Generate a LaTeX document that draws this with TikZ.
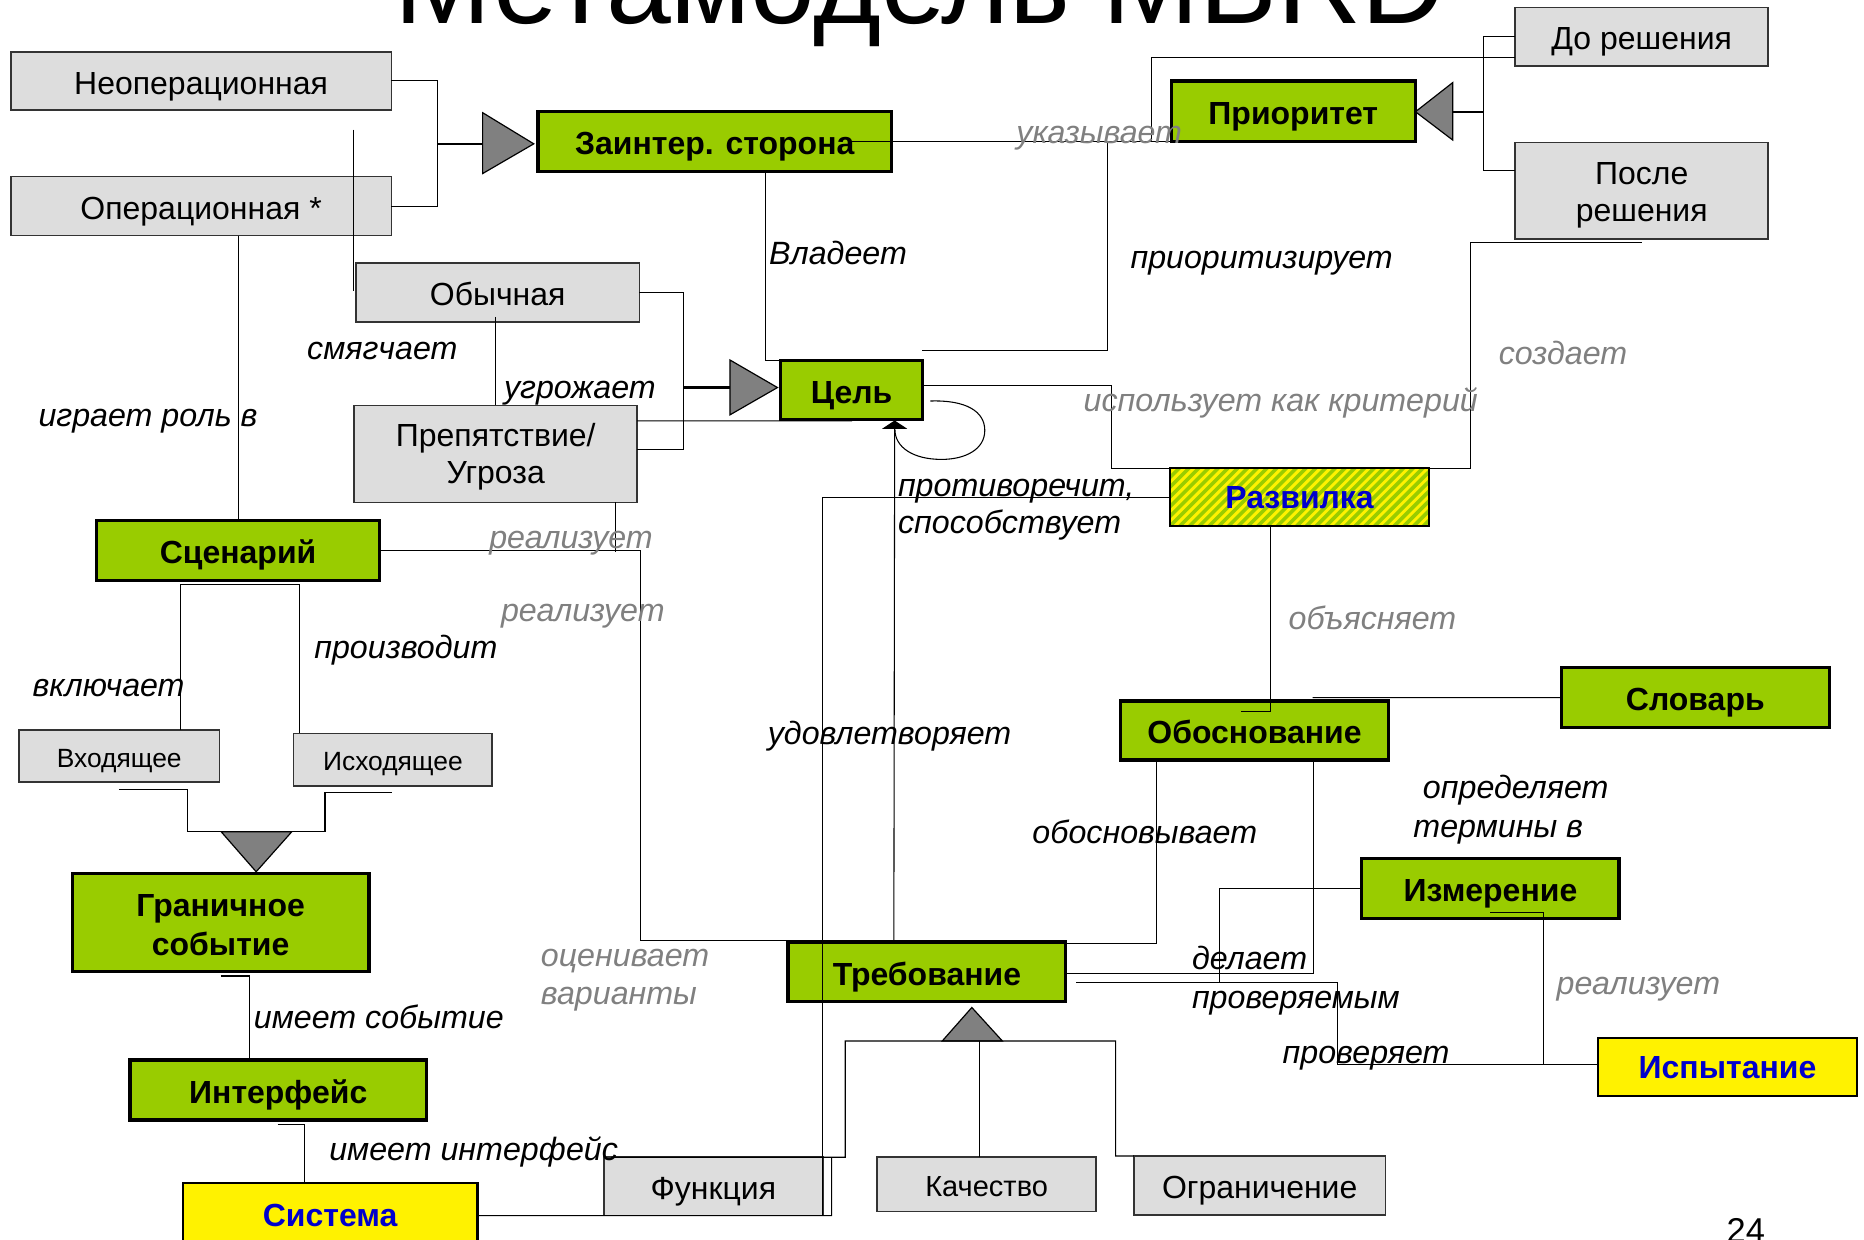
\documentclass[tikz,border=0pt]{standalone}
\usepackage{fontspec}
\setmainfont{Liberation Sans}
\usetikzlibrary{calc,arrows.meta}

\definecolor{leaf}{HTML}{99CC00}
\definecolor{boxgray}{HTML}{DDDDDD}
\definecolor{trigray}{HTML}{808080}
\definecolor{txtgray}{HTML}{808080}
\definecolor{ttblue}{HTML}{0000CC}

% box given by its corners (x1,y1) (x2,y2), y running downwards
\newcommand\mkbox[7]{%
  \node[#1, minimum width={(#5-(#3))*0.5pt}, minimum height={(#6-(#4))*0.5pt}]
    (#2) at ({(#3+#5)/2},{(#4+#6)/2}) {#7};}

\tikzset{
  every node/.style={inner sep=0pt, outer sep=0pt},
  gbox/.style={rectangle, draw=black!80, line width=0.7pt, fill=boxgray,
    font=\fontsize{13.45}{15.9}\selectfont, text height=11.1pt, text depth=0pt},
  gsmall/.style={gbox, font=\fontsize{11.1}{13}\selectfont, text height=9.45pt},
  leafbox/.style={rectangle, draw=black, line width=1.4pt, fill=leaf,
    font=\bfseries\fontsize{13.45}{16.2}\selectfont, text height=11.1pt, text depth=0pt},
  sunbox/.style={rectangle, draw=black, line width=0.9pt, fill=yellow, text=ttblue,
    font=\bfseries\fontsize{13.45}{16}\selectfont, text height=9.63pt, text depth=0pt},
  forkbox/.style={sunbox, fill=yellow,
    path picture={\foreach \k in {-8,...,28}{
      \draw[leaf, line width=1.5pt]
        ($(path picture bounding box.south west)+(\k*8.2,0)$) -- ++(60,-60);}}},
  rowtext/.style={anchor=base, font=\fontsize{13.45}{15.9}\selectfont},
  leafrow/.style={anchor=base, font=\bfseries\fontsize{13.45}{16.2}\selectfont},
  lab/.style={anchor=base west, font=\itshape\fontsize{13.55}{16}\selectfont},
  glab/.style={lab, text=txtgray},
  wire/.style={draw=black, line width=0.45pt},
  bold wire/.style={draw=black, line width=0.9pt},
  gen/.style={draw=black, line width=0.5pt, fill=trigray},
}

\begin{document}
\begin{tikzpicture}[x=0.5pt, y=-0.5pt]
\useasboundingbox (0,0) rectangle (1568,1043);
\clip (0,0) rectangle (1568,1043);

% title and page number
\node[anchor=base west, font=\fontsize{49}{55}\selectfont] (title) at (332,19.6) {Метамодель MBRD};
\node[anchor=base west, font=\fontsize{14.5}{16}\selectfont] (pg) at (1452.5,1045) {24};

% ---------- boxes ----------
\mkbox{gbox}{neop}{9}{43.5}{329.3}{92.5}{Неоперационная}
\mkbox{gbox}{oper}{9}{148.6}{329.3}{198.2}{Операционная *}
\mkbox{leafbox}{zain}{452.6}{94}{749.8}{144.4}{Заинтер. сторона}
\mkbox{leafbox}{prio}{985.2}{68.1}{1190.6}{119.2}{Приоритет}
\mkbox{gbox}{dores}{1274.5}{6.2}{1487.5}{55.3}{До решения}
\mkbox{gbox}{posle}{1274.5}{120}{1487.5}{201}{}
\mkbox{gbox}{obych}{299.4}{221.5}{537.9}{270.6}{Обычная}
\mkbox{leafbox}{cel}{656.8}{303.4}{775.8}{352.7}{Цель}
\mkbox{gbox}{prep}{298}{341}{536}{422.6}{}
\mkbox{forkbox}{razv}{984.2}{394}{1202.2}{442.5}{Развилка}
\mkbox{leafbox}{scen}{81.3}{438}{319.3}{488.5}{Сценарий}
\mkbox{leafbox}{obosn}{942.6}{589.7}{1168}{639.3}{Обоснование}
\mkbox{leafbox}{slov}{1313.4}{561.6}{1538.8}{612}{Словарь}
\mkbox{gsmall}{vhod}{16}{614}{184.6}{657.8}{Входящее}
\mkbox{gsmall}{ishod}{247}{617}{414}{661}{Исходящее}
\mkbox{leafbox}{gran}{60.9}{734.6}{310.3}{817.4}{}
\mkbox{leafbox}{izm}{1145.5}{722}{1362}{772.5}{Измерение}
\mkbox{leafbox}{treb}{662.9}{792.5}{896.5}{842.6}{Требование}
\mkbox{sunbox}{ispyt}{1344.3}{873}{1562}{922}{Испытание}
\mkbox{leafbox}{interf}{109.3}{891.7}{358.8}{942}{Интерфейс}
\mkbox{sunbox}{sist}{153.7}{995}{401.7}{1049}{Система}
\mkbox{gbox}{func}{508}{973.5}{692.2}{1022.5}{Функция}
\mkbox{gbox, font=\fontsize{12.2}{14}\selectfont, text height=10.2pt}{kach}{737.7}{973.3}{922.2}{1019}{Качество}
\mkbox{gbox}{ogran}{953.7}{972.4}{1165.6}{1022}{Ограничение}

% two-line box captions, one row each
\node[rowtext] (posle1) at (1381,154.8) {После};
\node[rowtext] (posle2) at (1381,186.5) {решения};
\node[rowtext] (prep1)  at (417,375.2)  {Препятствие/};
\node[rowtext] (prep2)  at (417,407.1)  {Угроза};
\node[leafrow] (gran1)  at (185.6,771.1) {Граничное};
\node[leafrow] (gran2)  at (185.6,803.4) {событие};

% ---------- generalisation triangles ----------
\draw[gen] (406,94.8) -- (449,121) -- (406,146) -- cycle;
\draw[gen] (1222,69.5) -- (1190.7,94) -- (1222,117.8) -- cycle;
\draw[gen] (614,302.8) -- (654,326) -- (614,349) -- cycle;
\draw[gen] (186,699.6) -- (215.5,733.3) -- (245.5,699.6) -- cycle;
\draw[gen] (792.6,875.7) -- (817.5,847.5) -- (843.2,875.7) -- cycle;

\coordinate (t1b) at (406,121);
\coordinate (t2b) at (1222,94);
\coordinate (t3b) at (614,326);
\coordinate (t4l) at (157.6,699.6);
\coordinate (t4r) at (273.4,699.6);
\coordinate (t5l) at (711,875.7);
\coordinate (t5r) at (938.5,875.7);
\coordinate (j1) at (368,121);
\coordinate (j2) at (1248,94);
\coordinate (j3) at (575,326);
\coordinate (m1) at (297,109);
\coordinate (m2) at (297,244.5);

% ---------- connectors ----------
% stakeholder kinds
\draw[wire] (neop.east) -| (j1) |- (oper.east);
\draw[bold wire] (j1) -- (t1b);
\draw[wire] (m1) -- (m2);
% owns
\draw[wire] ($(zain.south west)+(191,0)$) |- (cel.north west);
% points out / prioritises
\draw[wire] ($(zain.east)+(-34,0)$) -- (prio.south west);
\draw[wire] ($(prio.south west)+(-16.5,0)$) |- ($(dores.south west)+(0,-7)$);
\draw[wire] ($(prio.south west)+(-53.6,0)$) |- ($(cel.north east)+(0,-8.4)$);
% priority kinds
\draw[bold wire] (t2b) -- (j2);
\draw[wire] (dores.west) -| (j2) |- ($(posle.north west)+(0,23.6)$);
% goal -- decision -- priority after decision
\draw[wire] ($(cel.east)+(0,-4)$) -| ($(razv.north west)+(-49.6,0)$)
  -- ($(razv.north west)+(252.8,0)$) |- ($(posle.south)+(0,2.8)$);
% goal kinds
\draw[wire] (obych.east) -| (j3) |- ($(prep.east)+(0,-3.8)$);
\draw[bold wire] (j3) -- (t3b);
\draw[wire] ($(prep.east)+(0,-27.8)$) -- ($(cel.south west)+(60,1.3)$);
\draw[wire] ($(obych.south west)+(117.6,-4)$) -- ($(prep.north west)+(119,0)$);
% scenario
\draw[wire] (oper.south -| scen.north) -- (scen.north);
\draw[wire] ($(prep.south west)+(219.8,0)$) -- ($(prep.south west)+(219.8,41.4)$);
\draw[wire] (scen.east) -| ($(treb.north west)+(-123.9,-1.5)$) -- ($(treb.north west)+(0,-1.5)$);
\draw[wire] ($(vhod.north west)+(136,0)$) |- ($(ishod.north west)+(5,-125)$) -- ($(ishod.north west)+(5,0)$);
\draw[wire] ($(vhod.south west)+(84,6.2)$) -| (t4l) -- (t4r) |- ($(ishod.south west)+(83,6)$);
% events, interfaces, system
\draw[wire] ($(gran.south west)+(124.7,3.6)$) -| ($(interf.north west)+(100.2,0)$);
\draw[wire] ($(interf.south west)+(124.2,3.8)$) -| ($(sist.north west)+(102.2,0)$);
\draw[wire] ($(sist.north east)+(0,27.6)$) -- ($(func.south east)+(7.3,0)$) -- ($(func.north east)+(7.3,0)$);
\draw[wire] (func.south east) -- (func.north east) |- (razv.west);
% requirement kinds
\draw[wire] ($(func.north west)+(6,0)$) -- ($(func.north east)+(18.8,0)$) -- (t5l) -- (t5r) |- (ogran.north west);
\draw[wire] ($(kach.north west)+(86.3,0)$) -- ++(0,-97.6);
% satisfies, with the goal self-loop
\draw[wire, -{Triangle[width=10.5pt,length=3.5pt]}] ($(treb.north west)+(89,0)$) -- ($(cel.south west)+(95.8,1)$);
\draw[wire] ($(cel.east)+(6.8,9.3)$) .. controls +(30,-1) and +(0,-16) .. ($(cel.east)+(52.6,34)$)
  .. controls +(0,16) and +(20,0) .. ($(cel.east)+(16.2,58.4)$)
  .. controls +(-24,0) and +(0,15) .. ($(cel.south west)+(96,8.5)$);
% rationale, measure, test
\draw[wire] ($(obosn.south west)+(30.3,0)$) |- ($(treb.north east)+(0,1.5)$);
\draw[wire] ($(treb.east)+(0,1)$) -| ($(obosn.south west)+(162,0)$);
\draw[wire] ($(treb.east)+(9,8.8)$) -| ($(ispyt.west)+(-219,-2.2)$) -- ($(ispyt.west)+(0,-2.2)$);
\draw[wire] (izm.west) -| ($(treb.east)+(129.2,8.8)$);
\draw[wire] ($(izm.south west)+(108,-4.8)$) -| ($(ispyt.west)+(-46,-2.2)$);
\draw[wire] ($(razv.south west)+(84.7,0)$) |- ($(obosn.north west)+(101.4,9)$);
\draw[wire] (slov.west) -- ($(obosn.north west)+(161.6,-2.9)$);

% ---------- labels ----------
\node[lab]  (l1)  at (647,222.4)    {Владеет};
\node[glab] (l2)  at (855,120.6)    {указывает};
\node[lab]  (l3)  at (951,225.7)    {приоритизирует};
\node[glab] (l4)  at (1260.8,306.5) {создает};
\node[glab] (l5)  at (911.6,346.3)  {использует как критерий};
\node[lab]  (l6)  at (258.4,302.8)  {смягчает};
\node[lab]  (l7)  at (424,335)      {угрожает};
\node[lab]  (l8)  at (32.4,358.4)   {играет роль в};
\node[lab]  (l9)  at (755.4,417.8)  {противоречит,};
\node[lab]  (l10) at (755.4,448.6)  {способствует};
\node[glab] (l11) at (411.6,461.8)  {реализует};
\node[glab] (l12) at (421.5,523)    {реализует};
\node[glab] (l13) at (1084,529.4)   {объясняет};
\node[lab]  (l14) at (264.4,553.8)  {производит};
\node[lab]  (l15) at (27.4,585.5)   {включает};
\node[lab]  (l16) at (645.9,626.5)  {удовлетворяет};
\node[lab]  (l17) at (1197,671.6)   {определяет};
\node[lab]  (l18) at (1189,704.4)   {термины в};
\node[lab]  (l19) at (868.5,709.4)  {обосновывает};
\node[lab]  (l20) at (1002.7,815.4) {делает};
\node[lab]  (l21) at (1002.7,848.2) {проверяемым};
\node[lab]  (l22) at (1079,894.5)   {проверяет};
\node[glab] (l23) at (1309.4,836.2) {реализует};
\node[glab] (l24) at (455,813.2)    {оценивает};
\node[glab] (l25) at (455,845.4)    {варианты};
\node[lab]  (l26) at (213.6,865)    {имеет событие};
\node[lab]  (l27) at (277,975.8)    {имеет интерфейс};
\end{tikzpicture}
\end{document}
